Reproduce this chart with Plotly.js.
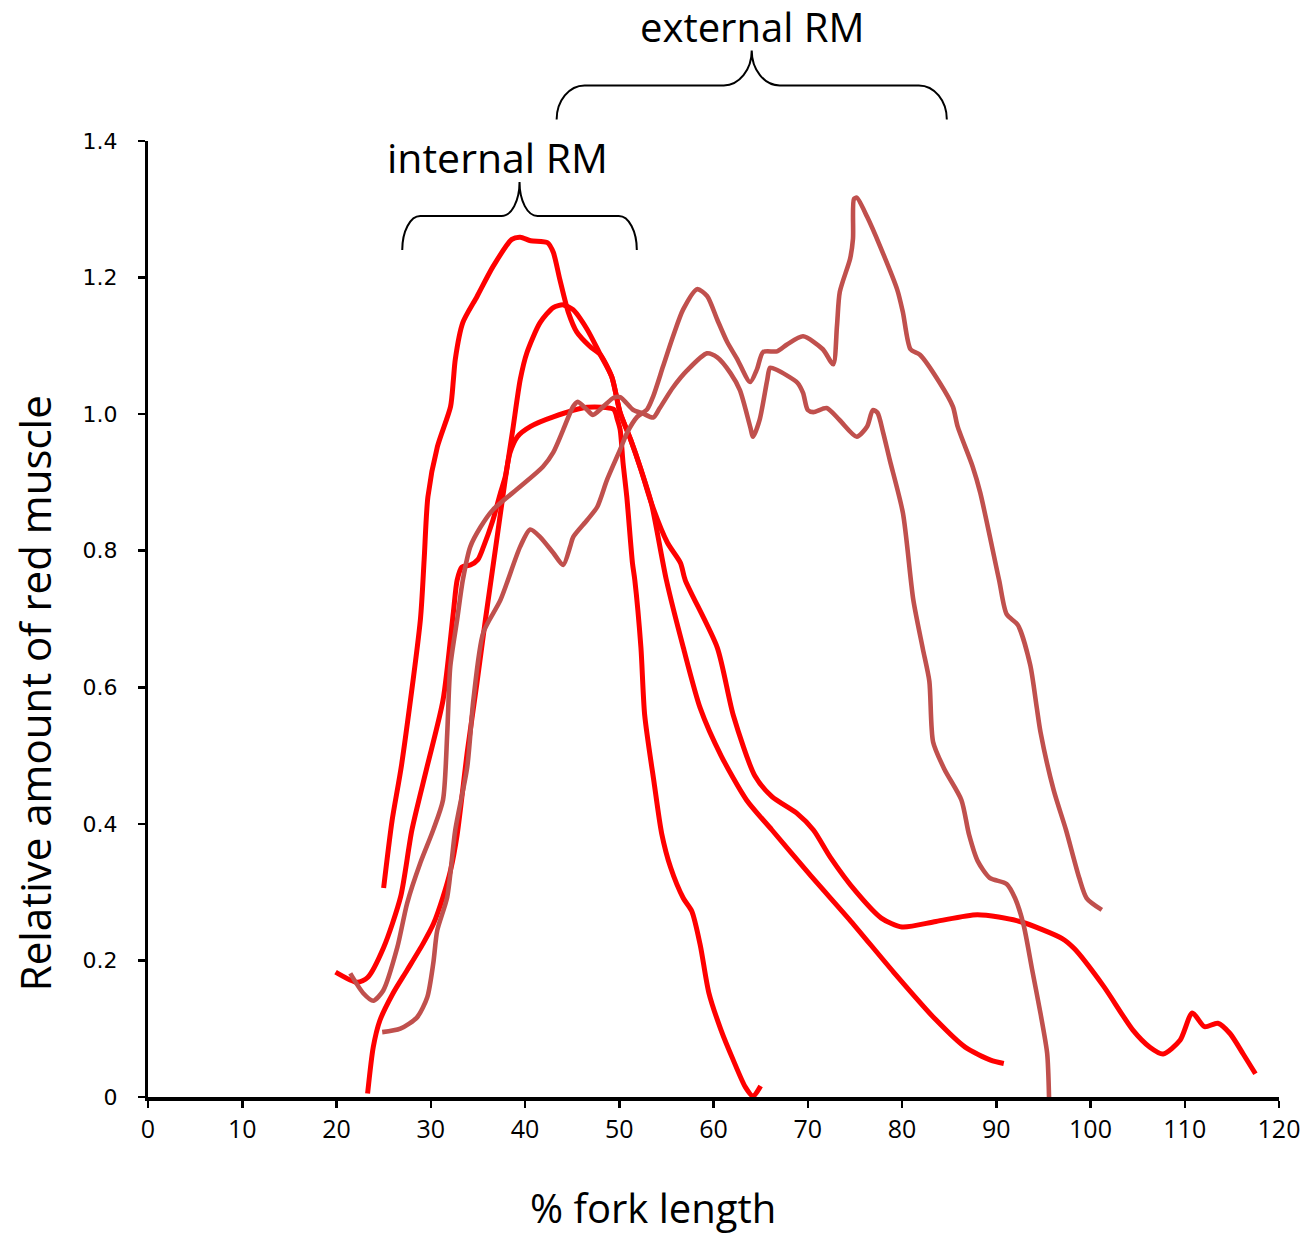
<!DOCTYPE html>
<html><head><meta charset="utf-8">
<script src="https://cdn.plot.ly/plotly-3.0.1.min.js"></script>
<style>html,body{margin:0;padding:0;background:#fff}</style>
</head><body><div id="chart" style="width:1303px;height:1235px"></div>
<script>
// ---- data (x: % fork length, y: relative amount of red muscle) ----
const redAX = [25.0,25.9,26.9,28.9,29.3,29.7,30.7,32.1,32.4,32.6,33.4,34.9,36.6,38.6,39.5,40.6,42.4,43.0,43.7,44.6,45.5,46.9,48.0,49.2,50.1,51.2,52.3,53.4,55.1,56.5,57.0,60.4,62.1,64.4,66.2,68.8,70.6,72.4,75.1,77.8,80.0,83.6,88.0,92.5,97.0,98.3,101.4,104.5,106.3,107.7,109.5,110.8,112.1,113.5,114.8,116.2,117.5];
const redAY = [0.306,0.405,0.486,0.699,0.787,0.879,0.952,1.011,1.050,1.080,1.134,1.172,1.216,1.256,1.259,1.254,1.251,1.237,1.197,1.149,1.120,1.099,1.087,1.055,1.002,0.963,0.919,0.870,0.812,0.782,0.757,0.658,0.559,0.470,0.440,0.416,0.391,0.351,0.301,0.262,0.249,0.257,0.267,0.257,0.232,0.217,0.162,0.098,0.073,0.063,0.083,0.123,0.103,0.108,0.093,0.063,0.034];

const redBX = [23.3,23.9,24.6,26.0,27.5,29.2,30.3,31.3,32.1,32.8,33.9,34.9,35.8,36.9,37.9,38.7,39.5,40.2,41.6,43.0,44.05,45.1,46.6,48.0,49.2,50.1,51.2,52.3,53.4,55.0,56.8,58.6,60.8,63.5,66.2,70.2,74.6,79.1,83.6,86.7,89.4,90.8];
const redBY = [0.005,0.073,0.112,0.152,0.186,0.225,0.254,0.293,0.332,0.384,0.508,0.606,0.699,0.806,0.904,0.977,1.051,1.090,1.134,1.156,1.160,1.153,1.124,1.087,1.055,1.002,0.963,0.919,0.870,0.757,0.658,0.569,0.500,0.435,0.391,0.326,0.257,0.183,0.113,0.073,0.054,0.049];

const redCX = [19.9,22.2,23.3,25.0,26.8,28.0,29.6,31.3,32.4,32.8,33.3,34.2,35.0,35.6,36.6,37.4,37.9,38.4,39.2,40.6,43.0,46.6,49.4,49.8,50.1,50.4,50.8,51.4,51.65,52.3,52.7,53.7,54.5,55.45,56.8,57.7,58.6,59.5,60.8,62.1,63.4,64.2,65.0];
const redCY = [0.183,0.168,0.175,0.219,0.293,0.391,0.483,0.581,0.710,0.757,0.776,0.779,0.787,0.806,0.845,0.885,0.908,0.943,0.967,0.982,0.996,1.010,1.007,0.992,0.977,0.929,0.879,0.782,0.757,0.658,0.559,0.460,0.386,0.336,0.291,0.272,0.222,0.153,0.098,0.054,0.014,0.001,0.016];

const brownAX = [21.46,22.84,23.9,24.96,26.45,27.5,28.9,30.26,31.3,31.75,32.07,32.8,33.4,34.2,35.3,36.6,39.5,41.9,43.0,44.05,45.1,45.6,46.6,47.2,48.3,49.4,50.1,51.5,52.5,53.6,54.3,55.7,57.2,59.3,60.4,61.8,62.8,63.9,64.2,64.9,65.7,66.0,66.7,68.9,69.5,70.0,70.6,72.0,73.4,75.2,76.3,76.9,77.4,78.0,78.7,80.1,81.2,82.2,82.9,83.3,84.5,86.3,87.1,88.05,89.3,91.1,92.0,92.9,93.8,94.7,95.4,95.6];
const brownAY = [0.181,0.152,0.141,0.156,0.219,0.284,0.343,0.391,0.435,0.533,0.630,0.699,0.757,0.806,0.835,0.860,0.894,0.923,0.944,0.977,1.011,1.018,1.006,0.999,1.011,1.024,1.025,1.006,1.001,0.995,1.009,1.039,1.064,1.089,1.083,1.060,1.035,0.981,0.967,0.992,1.050,1.068,1.065,1.046,1.031,1.006,1.003,1.009,0.991,0.967,0.982,1.006,1.002,0.973,0.933,0.855,0.728,0.657,0.609,0.520,0.480,0.435,0.385,0.345,0.321,0.312,0.291,0.252,0.187,0.122,0.064,0.0];

const brownBX = [24.85,26.77,28.57,29.63,30.27,30.69,31.75,32.60,33.87,34.52,35.57,37.4,39.49,40.55,41.61,42.99,44.05,44.79,45.11,46.60,47.66,48.71,50.09,50.84,51.90,52.96,53.6,54.65,55.71,56.77,58.26,59.32,60.38,61.44,62.50,63.88,64.62,65.26,66.74,67.80,69.5,71.6,72.7,73.1,73.4,74.5,74.8,74.9,75.2,76.3,77.7,79.5,80.1,80.9,81.9,84.0,85.4,85.9,87.5,88.3,90.3,91.1,92.3,93.6,94.3,94.7,96.1,97.4,98.8,99.6,101.2];
const brownBY = [0.095,0.100,0.117,0.146,0.196,0.244,0.293,0.391,0.483,0.581,0.680,0.728,0.806,0.831,0.820,0.797,0.779,0.806,0.820,0.845,0.864,0.904,0.948,0.973,0.996,1.007,1.026,1.070,1.114,1.153,1.183,1.173,1.139,1.106,1.081,1.047,1.066,1.091,1.092,1.102,1.114,1.095,1.073,1.129,1.179,1.228,1.257,1.315,1.317,1.289,1.245,1.182,1.149,1.095,1.087,1.046,1.011,0.982,0.923,0.885,0.757,0.707,0.691,0.633,0.570,0.534,0.449,0.391,0.321,0.291,0.274];

const yTickVals = [0,0.2,0.4,0.6,0.8,1.0,1.2,1.4];
const yTickText = ['0','0.2','0.4','0.6','0.8','1.0','1.2','1.4'];
const xTickVals = [0,10,20,30,40,50,60,70,80,90,100,110,120];

const RED = '#FF0000', BROWN = '#C0504D';
function line(x, y, color, w) {
  return {x: x, y: y, type: 'scatter', mode: 'lines', hoverinfo: 'skip',
    line: {color: color, width: w, shape: 'spline', smoothing: 0.7}};
}
const traces = [
  line(redAX, redAY, RED, 5),
  line(redBX, redBY, RED, 5),
  line(redCX, redCY, RED, 5),
  line(brownAX, brownAY, BROWN, 4.6),
  line(brownBX, brownBY, BROWN, 4.6)
];

// curly brace path in paper coordinates
function brace(x0, x1, yb, yh, ya, r) {
  const k = 0.552, xa = (x0 + x1) / 2;
  const p = (a, b) => a.toFixed(4) + ',' + b.toFixed(4);
  return 'M' + p(x0, yb) +
    ' C' + p(x0, yb + k * (yh - yb)) + ' ' + p(x0 + r - k * r, yh) + ' ' + p(x0 + r, yh) +
    ' L' + p(xa - r, yh) +
    ' C' + p(xa - r + k * r, yh) + ' ' + p(xa, ya - k * (ya - yh)) + ' ' + p(xa, ya) +
    ' C' + p(xa, ya - k * (ya - yh)) + ' ' + p(xa + r - k * r, yh) + ' ' + p(xa + r, yh) +
    ' L' + p(x1 - r, yh) +
    ' C' + p(x1 - r + k * r, yh) + ' ' + p(x1, yb + k * (yh - yb)) + ' ' + p(x1, yb);
}

const TXT = 'Open Sans, Liberation Sans, sans-serif';
const layout = {
  width: 1303, height: 1235,
  margin: {l: 148, r: 24, t: 141, b: 138},
  paper_bgcolor: '#fff', plot_bgcolor: '#fff',
  showlegend: false,
  xaxis: {
    range: [0, 120], tickvals: xTickVals, ticks: 'outside', ticklen: 7, tickwidth: 2.5, tickcolor: '#000',
    showline: true, linecolor: '#000', linewidth: 4, showgrid: false, zeroline: false,
    tickfont: {family: TXT, size: 25, color: '#000'},
    automargin: false, fixedrange: true
  },
  yaxis: {
    range: [0, 1.4], tickvals: yTickVals, ticktext: yTickText, ticks: 'outside', ticklen: 7, tickwidth: 2.5, tickcolor: '#000',
    showline: true, linecolor: '#000', linewidth: 3, showgrid: false, zeroline: false,
    tickfont: {family: 'DejaVu Sans, sans-serif', size: 22, color: '#000'},
    ticklabelstandoff: 16,
    automargin: false, fixedrange: true
  },
  annotations: [
    {text: '% fork length', xref: 'paper', yref: 'paper', x: 0.4465, y: -0.1152, showarrow: false,
     xanchor: 'center', yanchor: 'middle', font: {family: TXT, size: 40, color: '#000'}},
    {text: 'Relative amount of red muscle', xref: 'paper', yref: 'paper', x: -0.1008, y: 0.4223, showarrow: false,
     textangle: -90, xanchor: 'center', yanchor: 'middle', font: {family: TXT, size: 42, color: '#000'}},
    {text: 'internal RM', xref: 'paper', yref: 'paper', x: 0.3089, y: 0.983, showarrow: false,
     xanchor: 'center', yanchor: 'middle', font: {family: TXT, size: 41, color: '#000'}},
    {text: 'external RM', xref: 'paper', yref: 'paper', x: 0.534, y: 1.1195, showarrow: false,
     xanchor: 'center', yanchor: 'middle', font: {family: TXT, size: 40, color: '#000'}}
  ],
  shapes: [
    {type: 'path', xref: 'paper', yref: 'paper', path: brace(0.2248, 0.4322, 0.886, 0.9215, 0.957, 0.0159),
     line: {color: '#000', width: 2}},
    {type: 'path', xref: 'paper', yref: 'paper', path: brace(0.3613, 0.7063, 1.0225, 1.0581, 1.0946, 0.0247),
     line: {color: '#000', width: 2}}
  ]
};
Plotly.newPlot('chart', traces, layout, {displayModeBar: false, staticPlot: true});
</script></body></html>
